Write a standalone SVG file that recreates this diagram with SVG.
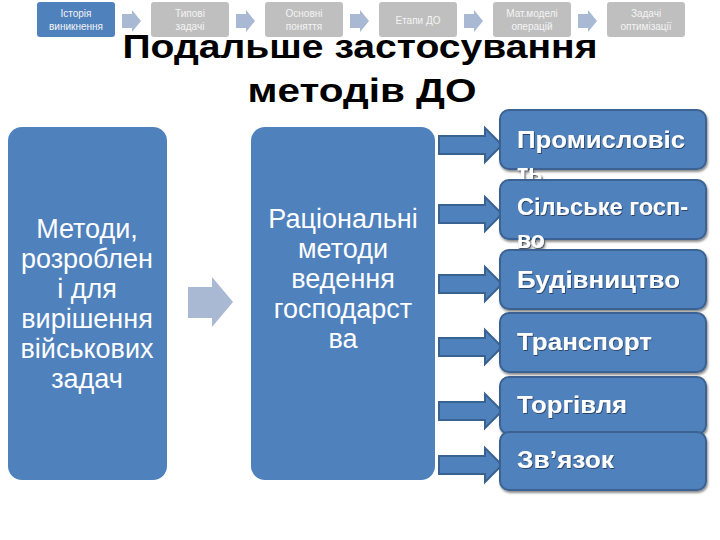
<svg xmlns="http://www.w3.org/2000/svg" width="720" height="540" viewBox="0 0 720 540">
<defs>
<style>
.nav{fill:#BFBFBF}
.navA{fill:#4F81BD}
.navT{font-family:"Liberation Sans",Arial,sans-serif;font-size:10px;fill:#F4F4F4;text-anchor:middle}
.navArrow{fill:#A9B9D4}
.title{font-family:"Liberation Sans",Arial,sans-serif;font-weight:bold;font-size:33px;fill:#000;text-anchor:middle}
.big{fill:#4F81BD}
.bigT{font-family:"Liberation Sans",Arial,sans-serif;font-size:27px;fill:#fff;text-anchor:middle}
.rb{fill:#4F81BD;stroke:#3A6291;stroke-width:2}
.rt{font-family:"Liberation Sans",Arial,sans-serif;font-weight:bold;font-size:23px;fill:#fff}
.blk{fill:#4F81BD;stroke:#3A6291;stroke-width:2}
</style>
<filter id="sh" x="-10%" y="-20%" width="130%" height="160%">
<feDropShadow dx="1" dy="2" stdDeviation="1.2" flood-color="#000" flood-opacity="0.45"/>
</filter>
<filter id="tsh" x="-10%" y="-30%" width="130%" height="180%">
<feDropShadow dx="0.8" dy="1" stdDeviation="0.6" flood-color="#1a2a40" flood-opacity="0.7"/>
</filter>
</defs>

<g id="nav">
<g id="nav1"><rect class="navA" x="37" y="2" width="78" height="35" rx="3"/><text class="navT" x="76" y="17">Історія</text><text class="navT" x="76" y="30">виникнення</text></g>
<g id="nav2"><rect class="nav" x="151" y="2" width="78" height="35" rx="3"/><text class="navT" x="190" y="17">Типові</text><text class="navT" x="190" y="30">задачі</text></g>
<g id="nav3"><rect class="nav" x="265" y="2" width="78" height="35" rx="3"/><text class="navT" x="304" y="17">Основні</text><text class="navT" x="304" y="30">поняття</text></g>
<g id="nav4"><rect class="nav" x="379" y="2" width="78" height="35" rx="3"/><text class="navT" x="418" y="23.5">Етапи ДО</text></g>
<g id="nav5"><rect class="nav" x="493" y="2" width="78" height="35" rx="3"/><text class="navT" x="532" y="17">Мат.моделі</text><text class="navT" x="532" y="30">операцій</text></g>
<g id="nav6"><rect class="nav" x="607" y="2" width="78" height="35" rx="3"/><text class="navT" x="646" y="17">Задачі</text><text class="navT" x="646" y="30">оптимізації</text></g>
<g id="navArrows">
<polygon class="navArrow" points="122,14 132,14 132,10 141,21 132,32 132,28 122,28"/>
<polygon class="navArrow" points="236,14 246,14 246,10 255,21 246,32 246,28 236,28"/>
<polygon class="navArrow" points="350,14 360,14 360,10 369,21 360,32 360,28 350,28"/>
<polygon class="navArrow" points="464,14 474,14 474,10 483,21 474,32 474,28 464,28"/>
<polygon class="navArrow" points="578,14 588,14 588,10 597,21 588,32 588,28 578,28"/>
</g>
</g>

<g id="title">
<text class="title" x="360" y="58" textLength="475" lengthAdjust="spacingAndGlyphs">Подальше застосування</text>
<text class="title" x="362" y="102" textLength="229" lengthAdjust="spacingAndGlyphs">методів ДО</text>
</g>

<g id="connectors">
<polygon fill="#A9B9D4" points="188,287 212,287 212,277 233,302 212,327 212,318 188,318"/>
<polygon class="blk" points="439,136 485,136 485,128 502,145 485,162 485,154 439,154"/>
<polygon class="blk" points="439,205 485,205 485,197 502,214 485,231 485,223 439,223"/>
<polygon class="blk" points="439,275 485,275 485,267 502,284 485,301 485,293 439,293"/>
<polygon class="blk" points="439,338 485,338 485,330 502,347 485,364 485,356 439,356"/>
<polygon class="blk" points="439,402 485,402 485,394 502,411 485,428 485,420 439,420"/>
<polygon class="blk" points="439,456 485,456 485,448 502,465 485,482 485,474 439,474"/>
</g>

<g id="node-military">
<rect class="big" x="8" y="127" width="159" height="353" rx="14"/>
<text class="bigT" x="87" y="238">Методи,</text>
<text class="bigT" x="87" y="268">розроблен</text>
<text class="bigT" x="87" y="298">і для</text>
<text class="bigT" x="87" y="328">вирішення</text>
<text class="bigT" x="87" y="358">військових</text>
<text class="bigT" x="87" y="388">задач</text>
</g>

<g id="node-rational">
<rect class="big" x="251" y="127" width="184" height="353" rx="14"/>
<text class="bigT" x="343" y="228">Раціональні</text>
<text class="bigT" x="343" y="258">методи</text>
<text class="bigT" x="343" y="288">ведення</text>
<text class="bigT" x="343" y="318">господарст</text>
<text class="bigT" x="343" y="348">ва</text>
</g>

<g id="node-industry" filter="url(#sh)">
<rect class="rb" x="500" y="110" width="206" height="59" rx="9"/>
<g filter="url(#tsh)"><text class="rt" x="517" y="148" textLength="168" lengthAdjust="spacingAndGlyphs">Промисловіс</text>
<text class="rt" x="517" y="181">ть</text></g>
</g>
<g id="node-agri" filter="url(#sh)">
<rect class="rb" x="500" y="180" width="206" height="59" rx="9"/>
<g filter="url(#tsh)"><text class="rt" x="517" y="215" textLength="171" lengthAdjust="spacingAndGlyphs">Сільське госп-</text>
<text class="rt" x="517" y="248">во</text></g>
</g>
<g id="node-build" filter="url(#sh)">
<rect class="rb" x="500" y="250" width="206" height="59" rx="9"/>
<text class="rt" x="517" y="288" textLength="163" lengthAdjust="spacingAndGlyphs" filter="url(#tsh)">Будівництво</text>
</g>
<g id="node-transport" filter="url(#sh)">
<rect class="rb" x="500" y="313" width="206" height="59" rx="9"/>
<text class="rt" x="517" y="350" textLength="135" lengthAdjust="spacingAndGlyphs" filter="url(#tsh)">Транспорт</text>
</g>
<g id="node-trade" filter="url(#sh)">
<rect class="rb" x="500" y="377" width="206" height="57" rx="9"/>
<text class="rt" x="517" y="413" textLength="110" lengthAdjust="spacingAndGlyphs" filter="url(#tsh)">Торгівля</text>
</g>
<g id="node-comm" filter="url(#sh)">
<rect class="rb" x="500" y="432" width="206" height="58" rx="9"/>
<text class="rt" x="517" y="468" textLength="97" lengthAdjust="spacingAndGlyphs" filter="url(#tsh)">Зв’язок</text>
</g>
</svg>
